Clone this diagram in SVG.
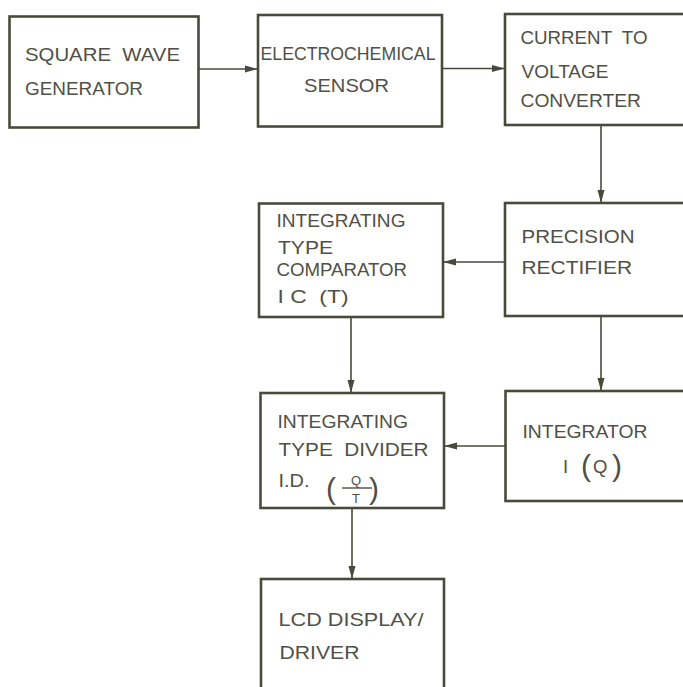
<svg xmlns="http://www.w3.org/2000/svg" width="683" height="687" viewBox="0 0 683 687">
<defs>
<style>
.box{fill:none;stroke:#4a4a3c;stroke-width:2.6}
.con{fill:none;stroke:#4a4a3c;stroke-width:1.6}
text{font-family:"Liberation Sans",Arial,sans-serif;font-size:18.5px;fill:#505046}
.big{font-size:30px}
.sm{font-size:13px}
</style>
<marker id="ah" markerUnits="userSpaceOnUse" markerWidth="14" markerHeight="8" refX="13" refY="4" orient="auto">
<path d="M0,0.5 L13,4 L0,7.5 z" fill="#4a4a3c"/>
</marker>
</defs>
<rect width="683" height="687" fill="#ffffff"/>
<g id="connectors">
<line class="con" x1="198" y1="69" x2="258" y2="69" marker-end="url(#ah)"/>
<line class="con" x1="442" y1="68.5" x2="505" y2="68.5" marker-end="url(#ah)"/>
<line class="con" x1="601" y1="126" x2="601" y2="203" marker-end="url(#ah)"/>
<line class="con" x1="505" y1="262" x2="443" y2="262" marker-end="url(#ah)"/>
<line class="con" x1="351" y1="317" x2="351" y2="393" marker-end="url(#ah)"/>
<line class="con" x1="601" y1="316" x2="601" y2="391" marker-end="url(#ah)"/>
<line class="con" x1="505" y1="446" x2="444" y2="446" marker-end="url(#ah)"/>
<line class="con" x1="352" y1="508" x2="352" y2="579" marker-end="url(#ah)"/>
</g>
<g id="square-wave-generator">
<rect class="box" x="9.5" y="16.5" width="189" height="111"/>
<text x="25" y="61" textLength="155" lengthAdjust="spacingAndGlyphs" xml:space="preserve">SQUARE  WAVE</text>
<text x="25" y="95" textLength="118" lengthAdjust="spacingAndGlyphs">GENERATOR</text>
</g>
<g id="electrochemical-sensor">
<rect class="box" x="258" y="15" width="184" height="111.5"/>
<text x="260.5" y="60" textLength="175" lengthAdjust="spacingAndGlyphs">ELECTROCHEMICAL</text>
<text x="304" y="92" textLength="85" lengthAdjust="spacingAndGlyphs">SENSOR</text>
</g>
<g id="current-to-voltage-converter">
<rect class="box" x="505" y="14" width="185" height="111"/>
<text x="520.5" y="43.5" textLength="127" lengthAdjust="spacingAndGlyphs" xml:space="preserve">CURRENT  TO</text>
<text x="521.5" y="78" textLength="87" lengthAdjust="spacingAndGlyphs">VOLTAGE</text>
<text x="520.5" y="107" textLength="120.5" lengthAdjust="spacingAndGlyphs">CONVERTER</text>
</g>
<g id="integrating-type-comparator">
<rect class="box" x="259" y="203.5" width="184" height="113.5"/>
<text x="276.5" y="227" textLength="129" lengthAdjust="spacingAndGlyphs">INTEGRATING</text>
<text x="278" y="253.5" textLength="55" lengthAdjust="spacingAndGlyphs">TYPE</text>
<text x="276.5" y="275.5" textLength="130.5" lengthAdjust="spacingAndGlyphs">COMPARATOR</text>
<text x="277.5" y="303" textLength="71" lengthAdjust="spacingAndGlyphs" xml:space="preserve">I C  (T)</text>
</g>
<g id="precision-rectifier">
<rect class="box" x="505" y="203" width="185" height="113"/>
<text x="521.5" y="243" textLength="113" lengthAdjust="spacingAndGlyphs">PRECISION</text>
<text x="521.5" y="273.5" textLength="110.5" lengthAdjust="spacingAndGlyphs">RECTIFIER</text>
</g>
<g id="integrating-type-divider">
<rect class="box" x="260.5" y="393" width="183.5" height="115"/>
<text x="277.5" y="428" textLength="130.5" lengthAdjust="spacingAndGlyphs">INTEGRATING</text>
<text x="278.5" y="456" textLength="150" lengthAdjust="spacingAndGlyphs" xml:space="preserve">TYPE  DIVIDER</text>
<text x="278.5" y="487" textLength="31" lengthAdjust="spacingAndGlyphs">I.D.</text>
<text class="big" x="326" y="499">(</text>
<text class="big" x="369" y="499">)</text>
<text class="sm" x="356" y="485" text-anchor="middle">Q</text>
<line x1="342" y1="488" x2="372" y2="488" stroke="#505046" stroke-width="1.4"/>
<text class="sm" x="356" y="503" text-anchor="middle">T</text>
</g>
<g id="integrator">
<rect class="box" x="505.5" y="391" width="184.5" height="110"/>
<text x="522.5" y="437.5" textLength="125" lengthAdjust="spacingAndGlyphs">INTEGRATOR</text>
<text x="563" y="473">I</text>
<text class="big" x="581" y="476">(</text>
<text x="593" y="473">Q</text>
<text class="big" x="612" y="476">)</text>
</g>
<g id="lcd-display-driver">
<rect class="box" x="261" y="579" width="183" height="125"/>
<text x="278.5" y="626" textLength="145" lengthAdjust="spacingAndGlyphs">LCD DISPLAY/</text>
<text x="279.5" y="658.5" textLength="80" lengthAdjust="spacingAndGlyphs">DRIVER</text>
</g>
</svg>
